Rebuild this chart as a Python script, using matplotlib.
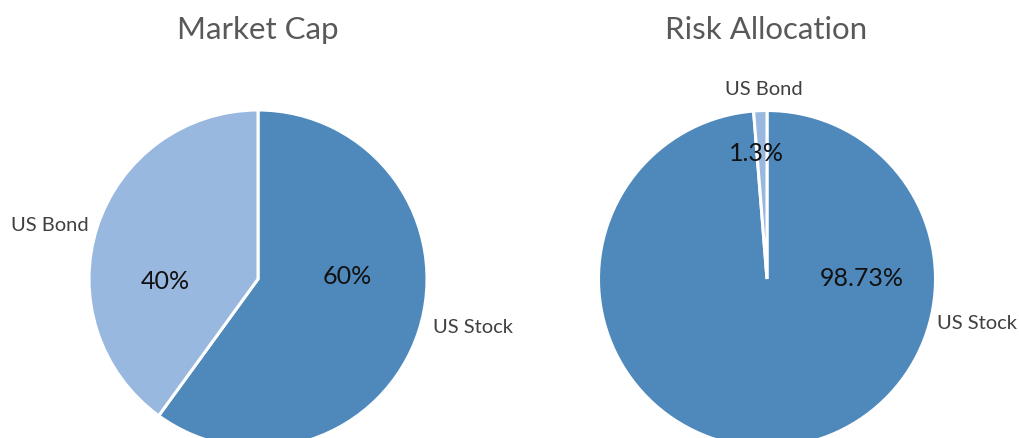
import matplotlib
matplotlib.use('Agg')
from matplotlib import pyplot as plt

plt.rcParams['font.family'] = ['Lato', 'DejaVu Sans']

# data
assets = ['US Stock', 'US Bond']
market_cap = [60, 40]
risk_alloc = [98.73, 1.27]
market_pct = ['60%', '40%']
risk_pct = ['98.73%', '1.3%']
titles = ['Market Cap', 'Risk Allocation']

colors = ['#4f89bc', '#98b8df']
W, H = 1019, 439

fig = plt.figure(figsize=(W / 100, H / 100), dpi=100)
fig.patch.set_facecolor('white')


def pie_axes(cx, cy, r):
    # cx, cy, r in pixels, cy measured from the top
    return fig.add_axes([(cx - r) / W, (H - cy - r) / H, 2 * r / W, 2 * r / H])


# left: market cap
ax1 = pie_axes(258, 280, 169)
ax1.pie(market_cap, colors=colors, startangle=90, counterclock=False,
        wedgeprops=dict(edgecolor='white', linewidth=2.2))
ax1.set_xlim(-1, 1)
ax1.set_ylim(-1, 1)
ax1.text(0.53, 0.02, market_pct[0], ha='center', va='center', fontsize=18, color='#111111')
ax1.text(-0.55, -0.01, market_pct[1], ha='center', va='center', fontsize=18, color='#111111')
ax1.text(1.035, -0.28, assets[0], ha='left', va='center', fontsize=14.5, color='#404040')
ax1.text(-1.005, 0.32, assets[1], ha='right', va='center', fontsize=14.5, color='#404040')

# right: risk allocation
ax2 = pie_axes(767, 280, 168.5)
ax2.pie(risk_alloc, colors=colors, startangle=90, counterclock=False,
        wedgeprops=dict(edgecolor='white', linewidth=2.2))
ax2.set_xlim(-1, 1)
ax2.set_ylim(-1, 1)
ax2.text(0.56, 0.01, risk_pct[0], ha='center', va='center', fontsize=18, color='#111111')
ax2.text(-0.06, 0.75, risk_pct[1], ha='center', va='center', fontsize=18, color='#111111')
ax2.text(1.01, -0.26, assets[0], ha='left', va='center', fontsize=14.5, color='#404040')
ax2.text(-0.02, 1.13, assets[1], ha='center', va='center', fontsize=14.5, color='#404040')

fig.text(258 / W, 1 - 30 / H, titles[0], ha='center', va='center', fontsize=22.5, color='#595959')
fig.text(766 / W, 1 - 30 / H, titles[1], ha='center', va='center', fontsize=22.5, color='#595959')

fig.savefig('out.png', dpi=100, facecolor='white')
